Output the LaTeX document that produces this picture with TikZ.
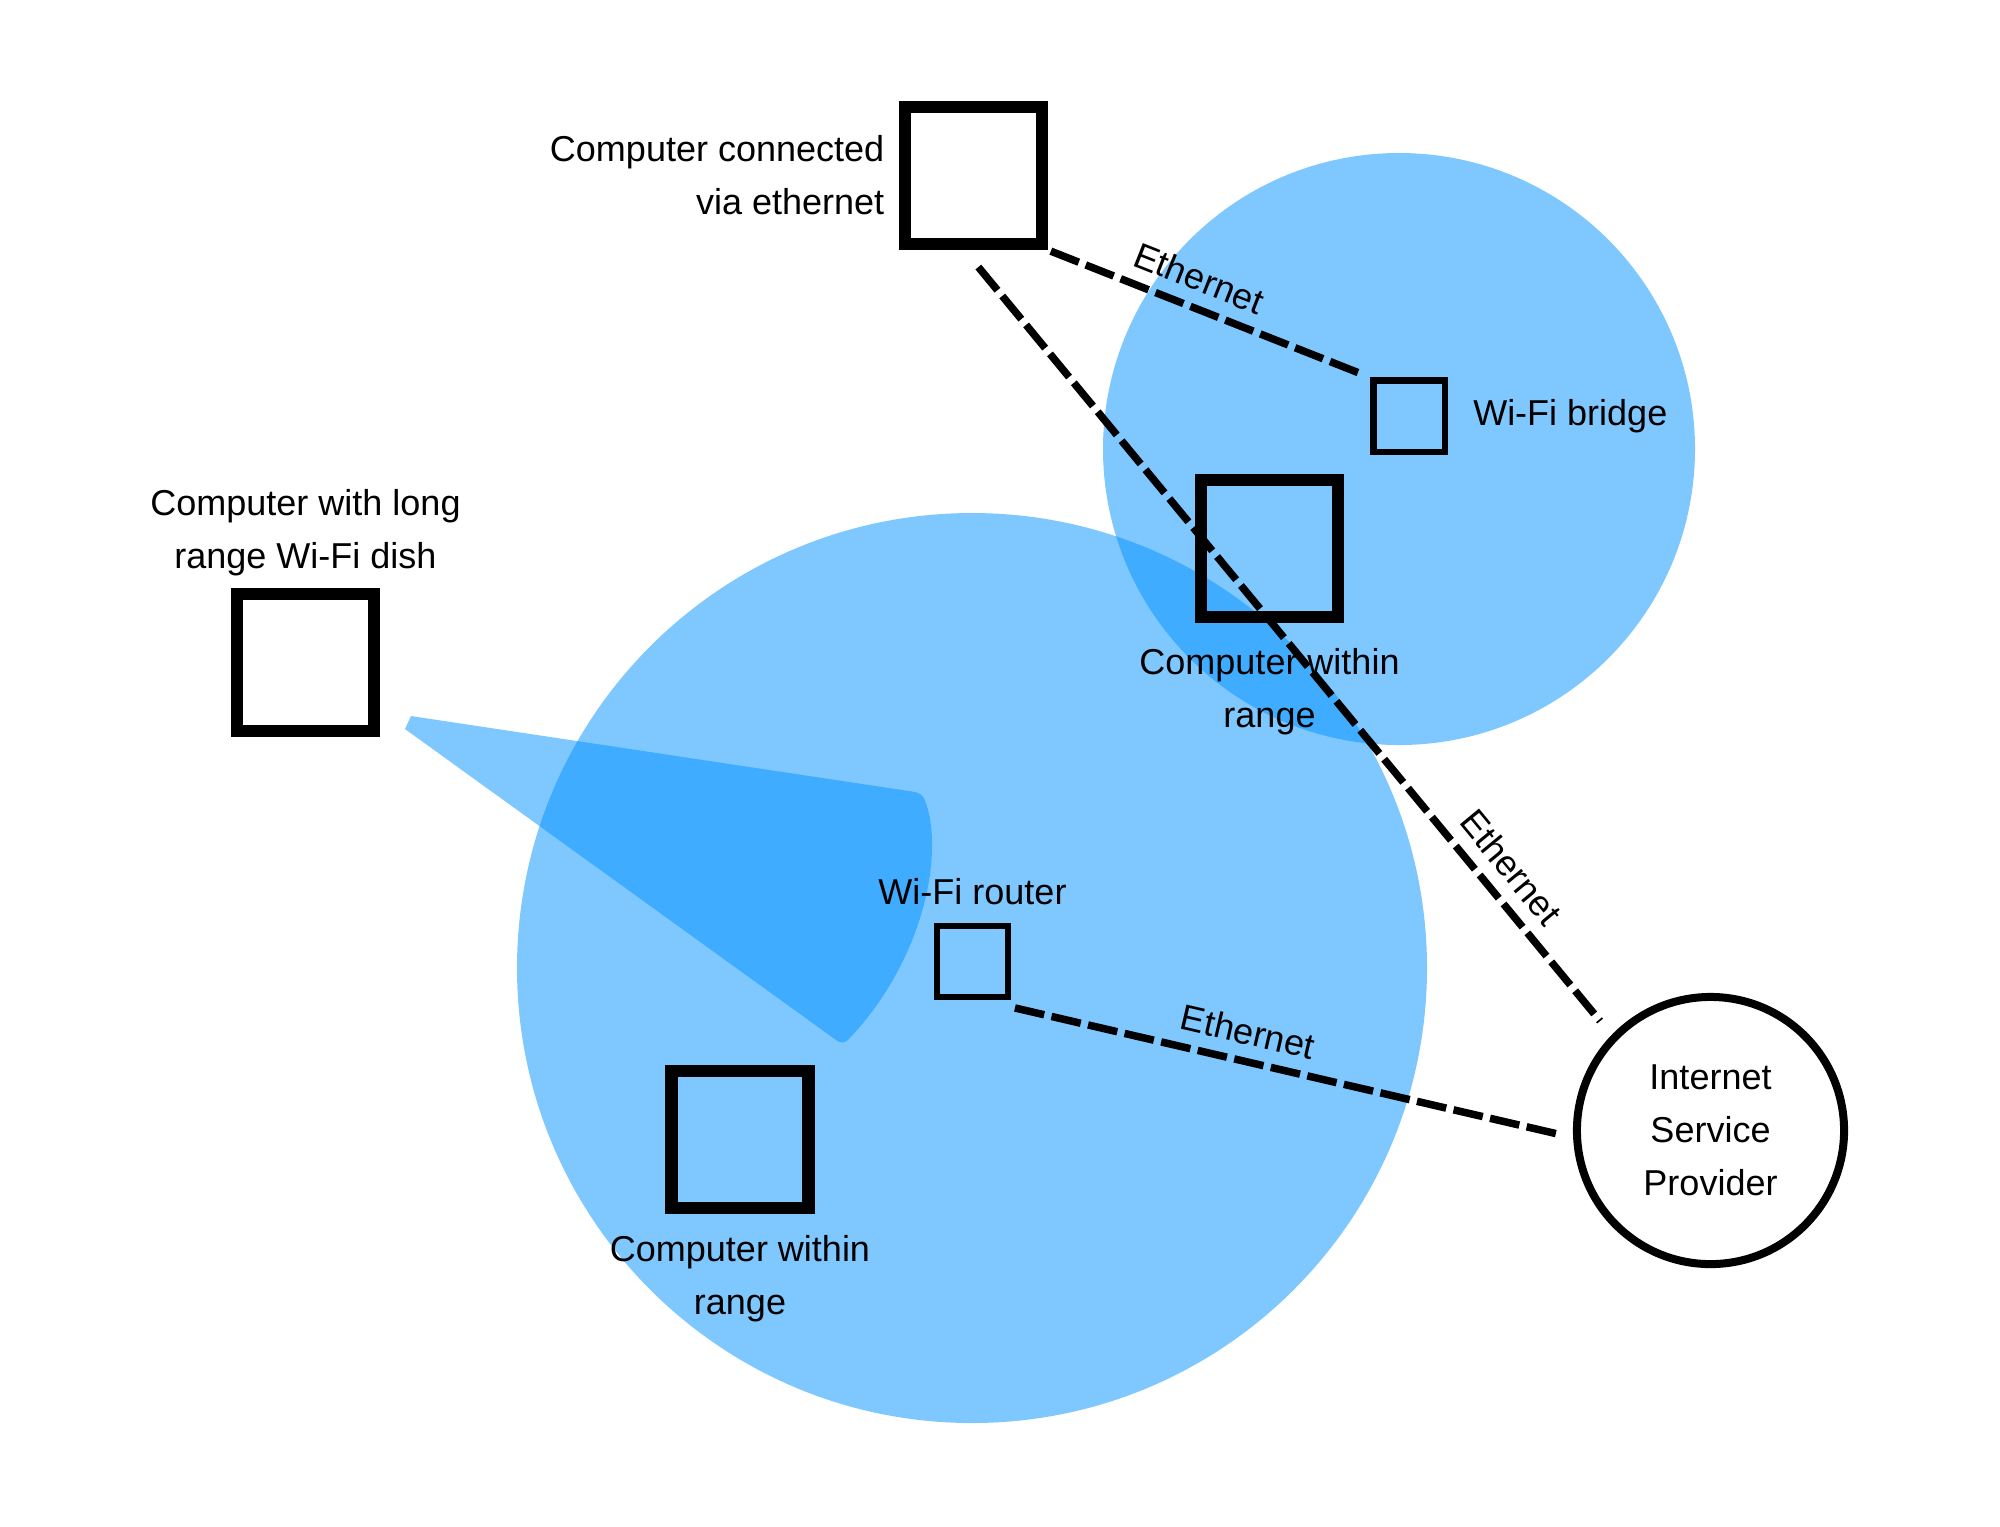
\documentclass[tikz,border=0pt]{standalone}
\usepackage{fontspec}
\setmainfont{Liberation Sans}
\usetikzlibrary{positioning}
\definecolor{wifiblue}{RGB}{0,145,255}

\begin{document}
\begin{tikzpicture}[x=0.01cm, y=-0.01cm,
    every node/.style={font=\fontsize{10.24pt}{15.08pt}\selectfont},
    pc/.style={draw, line width=1.25mm, minimum size=1.365cm, inner sep=0},
    box/.style={draw, line width=0.6mm, minimum size=0.71cm, inner sep=0},
    txt/.style={inner sep=0, align=center},
    cable/.style={line width=0.75mm, dash pattern=on 3mm off 0.75mm},
    eth/.style={sloped, above, inner sep=1.25mm},
    coverage/.style={wifiblue, fill opacity=0.5}]
	\useasboundingbox (0,0) rectangle (2000,1526);

	% coverage of the router, the bridge and the dish
	\fill[coverage] (972,968) circle[radius=455];
	\fill[coverage] (1399,449) circle[radius=296];
	\fill[coverage] (405,729) -- (411,716) [rounded corners=0.7mm]-- (922,793) .. controls (945,850) and (925,960) .. (843,1045) [sharp corners]-- cycle;

	\node[pc](conn) at (973.5,175.5){};
	\node[box](bridge) at (1409,416){};
	\node[pc](near1) at (1269.5,548.5){};
	\node[pc](dish) at (305.5,662.5){};
	\node[box](router) at (972.5,961.5){};
	\node[pc](near2) at (740,1139.5){};
	\node[draw, circle, line width=0.8mm, minimum size=2.67cm, inner sep=0, align=center](isp) at (1710.5,1130.5){Internet\\Service\\Provider};

	\node[txt, left=1.4mm of conn, align=right](connlbl){Computer connected\\via ethernet};
	\node[txt, right=2.5mm of bridge](bridgelbl){Wi-Fi bridge};
	\node[txt, below=2.5mm of near1](near1lbl){Computer within\\range};
	\node[txt, above=1.1mm of dish](dishlbl){Computer with long\\range Wi-Fi dish};
	\node[txt, above=1.7mm of router](routerlbl){Wi-Fi router};
	\node[txt, below=2.1mm of near2](near2lbl){Computer within\\range};

	\draw[cable, shorten <=0.3mm, shorten >=1mm] (conn.south east) to node[eth, pos=0.435]{Ethernet} (bridge.north west);
	\draw[cable, shorten <=2.2mm, shorten >=1.8mm] (conn.-97) to node[eth, pos=0.81]{Ethernet} (isp.136);
	\draw[cable, shorten <=0.4mm, shorten >=1.6mm] ([yshift=-0.7mm]router.south east) to node[eth, pos=0.41]{Ethernet} ([yshift=-0.7mm]isp.west);
\end{tikzpicture}
\end{document}
